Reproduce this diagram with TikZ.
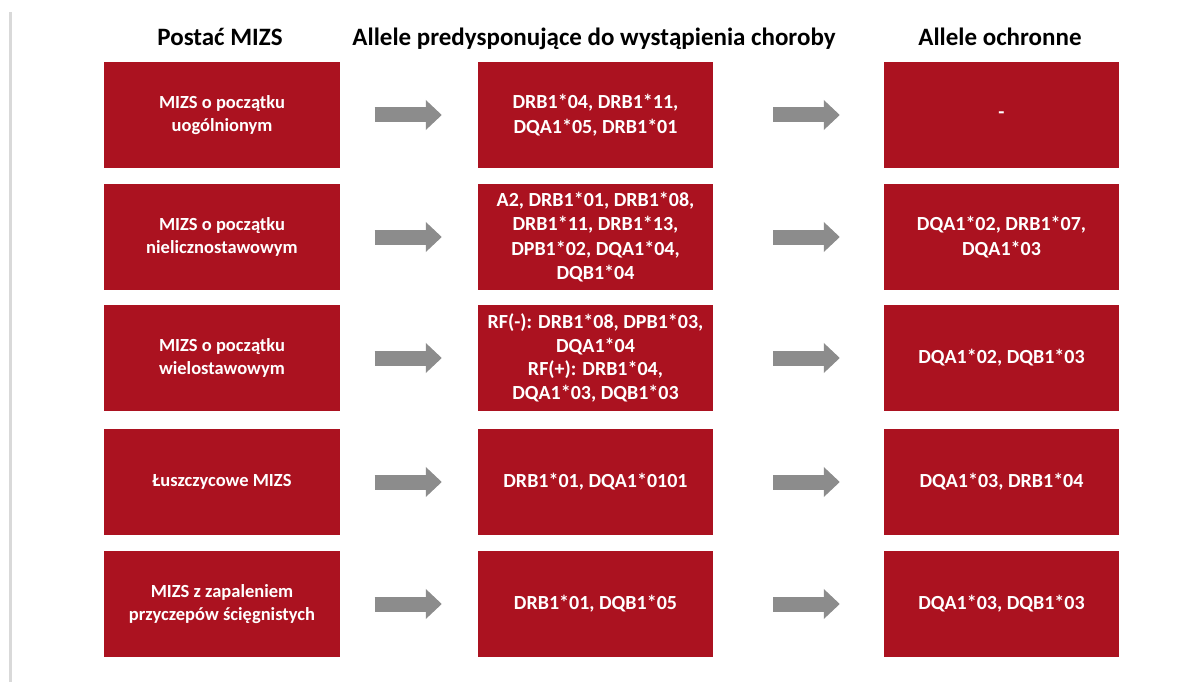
\documentclass[tikz,border=0pt]{standalone}
\usepackage{fontspec}
\setmainfont{Carlito}
\usetikzlibrary{arrows.meta,calc}
\definecolor{boxred}{RGB}{171,18,32}
\definecolor{arrgrey}{RGB}{140,140,140}
\definecolor{edgegrey}{RGB}{217,217,217}
\begin{document}
\begin{tikzpicture}[x=1bp,y=-1bp,
  cell/.style={fill=boxred,draw=none,text=white,minimum width=235bp,minimum height=106bp,
    inner sep=0pt,align=center,font=\fontsize{20bp}{24.5bp}\selectfont\bfseries},
  leftcell/.style={cell,font=\fontsize{18.5bp}{22.5bp}\selectfont\bfseries},
  head/.style={inner sep=0pt,anchor=base,font=\fontsize{25bp}{29bp}\selectfont\bfseries},
  blockarrow/.style={draw=arrgrey,line width=15bp,-{Triangle[width=29bp,length=16bp]}}]
\useasboundingbox (0,0) rectangle (1202,682);
\fill[white] (0,0) rectangle (1202,682);
\fill[edgegrey] (9,12) rectangle (12,682);
% headers
\node[head] (h1) at (220,46) {Postać MIZS};
\node[head] (h2) at (594,46) {Allele predysponujące do wystąpienia choroby};
\node[head] (h3) at (1000,46) {Allele ochronne};
% row 1
\node[leftcell] (a1) at (222,115) {MIZS o początku\\uogólnionym};
\node[cell] (b1) at (595.5,115) {DRB1*04, DRB1*11,\\DQA1*05, DRB1*01};
\node[cell] (c1) at (1001.5,115) {-};
% row 2
\node[leftcell] (a2) at (222,237) {MIZS o początku\\nielicznostawowym};
\node[cell] (b2) at (595.5,237) {A2, DRB1*01, DRB1*08,\\DRB1*11, DRB1*13,\\DPB1*02, DQA1*04,\\DQB1*04};
\node[cell] (c2) at (1001.5,237) {DQA1*02, DRB1*07,\\DQA1*03};
% row 3
\node[leftcell] (a3) at (222,358) {MIZS o początku\\wielostawowym};
\node[cell,font=\fontsize{20bp}{23.7bp}\selectfont\bfseries] (b3) at (595.5,358) {RF(-): DRB1*08, DPB1*03,\\DQA1*04\\RF(+): DRB1*04,\\DQA1*03, DQB1*03};
\node[cell] (c3) at (1001.5,358) {DQA1*02, DQB1*03};
% row 4
\node[leftcell] (a4) at (222,482) {Łuszczycowe MIZS};
\node[cell] (b4) at (595.5,482) {DRB1*01, DQA1*0101};
\node[cell] (c4) at (1001.5,482) {DQA1*03, DRB1*04};
% row 5
\node[leftcell] (a5) at (222,604) {MIZS z zapaleniem\\przyczepów ścięgnistych};
\node[cell] (b5) at (595.5,604) {DRB1*01, DQB1*05};
\node[cell] (c5) at (1001.5,604) {DQA1*03, DQB1*03};
% arrows
\foreach \r in {1,...,5}{
  \draw[blockarrow] ($(a\r.east)+(35,0)$) -- ($(b\r.west)+(-36,0)$);
  \draw[blockarrow] ($(b\r.east)+(60,0)$) -- ($(c\r.west)+(-44,0)$);
}
\end{tikzpicture}
\end{document}
